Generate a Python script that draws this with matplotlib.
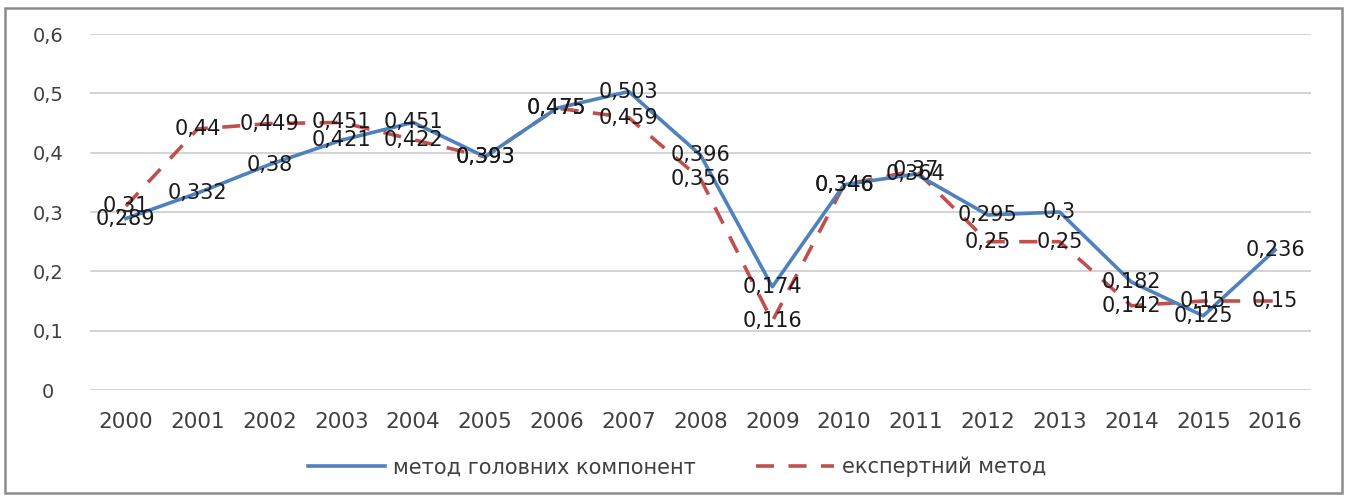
import matplotlib
matplotlib.use('Agg')
import matplotlib.pyplot as plt
from matplotlib.patches import Rectangle
from matplotlib.lines import Line2D

years = ['2000', '2001', '2002', '2003', '2004', '2005', '2006', '2007', '2008',
         '2009', '2010', '2011', '2012', '2013', '2014', '2015', '2016']
pca_method = [0.289, 0.332, 0.38, 0.421, 0.451, 0.393, 0.475, 0.503, 0.396,
              0.174, 0.346, 0.364, 0.295, 0.3, 0.182, 0.125, 0.236]
expert_method = [0.31, 0.44, 0.449, 0.451, 0.422, 0.393, 0.475, 0.459, 0.356,
                 0.116, 0.346, 0.37, 0.25, 0.25, 0.142, 0.15, 0.15]
yticks = [0, 0.1, 0.2, 0.3, 0.4, 0.5, 0.6]

blue = '#4F81BD'
red = '#C0504D'

W, H = 1347, 497
fig = plt.figure(figsize=(W / 100, H / 100), dpi=100)
ax = fig.add_axes([90 / W, 107 / H, 1221 / W, 356 / H])

x = list(range(len(years)))
ax.plot(x, pca_method, color=blue, lw=2.6, zorder=3)
ax.plot(x, expert_method, color=red, lw=2.6, dashes=(5, 4), zorder=2)


def fmt(v):
    return ('%g' % v).replace('.', ',')


for xi, v in zip(x, expert_method):
    ax.text(xi, v, fmt(v), ha='center', va='center', fontsize=15,
            color='#1a1a1a', zorder=5)
for xi, v in zip(x, pca_method):
    ax.text(xi, v, fmt(v), ha='center', va='center', fontsize=15,
            color='#1a1a1a', zorder=5)

ax.set_xlim(-0.5, len(years) - 0.5)
ax.set_ylim(0, 0.6)
ax.set_xticks(x)
ax.set_xticklabels(years)
ax.set_yticks(yticks)
ax.set_yticklabels([fmt(t) for t in yticks])
for lab in ax.get_yticklabels():
    lab.set_ha('center')
ax.tick_params(axis='y', length=0, pad=30, labelsize=14, labelcolor='#404040')
ax.tick_params(axis='x', length=0, pad=16, labelsize=15.5, labelcolor='#404040')
ax.grid(axis='y', color='#D0D0D0', lw=1.3)
ax.set_axisbelow(True)
for s in ax.spines.values():
    s.set_visible(False)

handles = [Line2D([], [], color=blue, lw=2.6),
           Line2D([], [], color=red, lw=2.6, dashes=(5, 4))]
fig.legend(handles, ['метод головних компонент', 'експертний метод'],
           loc='center', bbox_to_anchor=(677 / W, 1 - 467 / H), ncol=2,
           frameon=False, fontsize=15, handlelength=3.7, handletextpad=0.4,
           columnspacing=2.9, labelcolor='#404040')

fig.patches.append(Rectangle((5 / W, 4 / H), 1337 / W, 485 / H,
                             transform=fig.transFigure, fill=False,
                             edgecolor='#8c8c8c', lw=1.8))

fig.savefig('out.png', dpi=100)
